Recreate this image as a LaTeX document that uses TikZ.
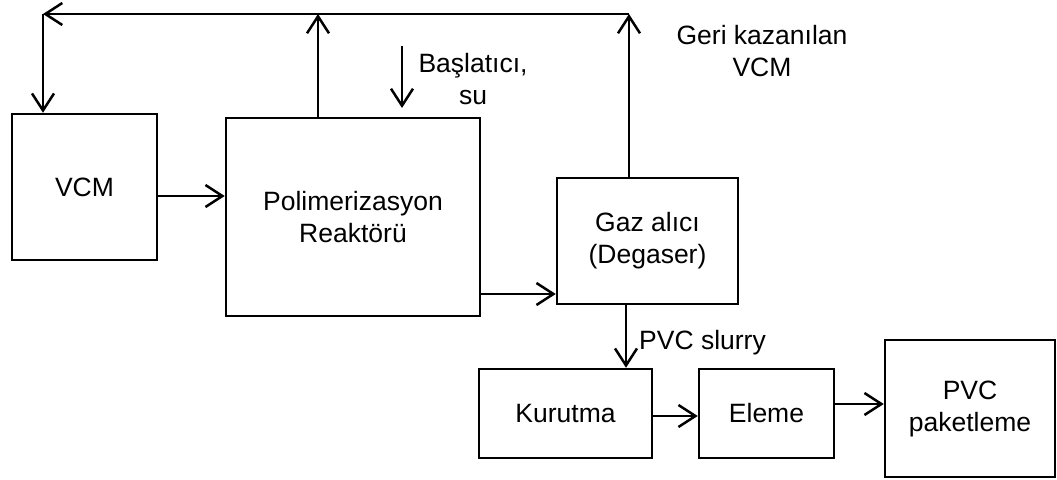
\documentclass[tikz,border=0pt]{standalone}
\usepackage{fontspec}
\setmainfont{Liberation Sans}
\usetikzlibrary{arrows.meta}
\begin{document}
\begin{tikzpicture}[x=1pt,y=-1pt,
  every node/.style={font=\fontsize{26.5}{32}\selectfont},
  box/.style={draw, line width=2.5pt, inner sep=0pt, align=center},
  flow/.style={line width=2.5pt, -{Straight Barb[length=17pt,width=22pt,line width=2.5pt]}},
  lbl/.style={align=center, inner sep=0pt}]
\useasboundingbox (0,0) rectangle (1057,479);
\node[box, minimum width=145pt, minimum height=146pt] (vcm) at (84.5,187) {VCM};
\node[box, minimum width=254pt, minimum height=198pt] (reac) at (353,217) {Polimerizasyon\\Reaktörü};
\node[box, minimum width=181pt, minimum height=126pt] (deg) at (647.5,241) {Gaz alıcı\\(Degaser)};
\node[box, minimum width=173pt, minimum height=89pt] (kur) at (565.5,413.5) {Kurutma};
\node[box, minimum width=135pt, minimum height=89pt] (ele) at (766.5,413.5) {Eleme};
\node[box, minimum width=170pt, minimum height=137pt] (pvc) at (970,408.5) {PVC\\paketleme};
\coordinate (tr) at (629,14);
\coordinate (tl) at (43,14);
\coordinate (rt) at (318,14);
\coordinate (bs) at (402,46);
\coordinate (be) at (402,108);
\node[lbl] (blab) at (473,79) {Başlatıcı,\\su};
\node[lbl] (glab) at (762,51) {Geri kazanılan\\VCM};
\node[lbl, anchor=west] (slab) at (639,343) {PVC slurry};
% connectors
\draw[flow] (deg.north -| tr) -- (tr);
\draw[flow] (tr) -- (tl);
\draw[flow] (tl) -- (vcm.north -| tl);
\draw[flow] (reac.north -| rt) -- (rt);
\draw[flow] (bs) -- (be);
\draw[flow] (vcm.east |- 0,196) -- (reac.west |- 0,196);
\draw[flow] (reac.east |- 0,294) -- (deg.west |- 0,294);
\draw[flow] (deg.south -| 626,0) -- (kur.north -| 626,0);
\draw[flow] (kur.east |- 0,416) -- (ele.west |- 0,416);
\draw[flow] (ele.east |- 0,404) -- (pvc.west |- 0,404);
\end{tikzpicture}
\end{document}
